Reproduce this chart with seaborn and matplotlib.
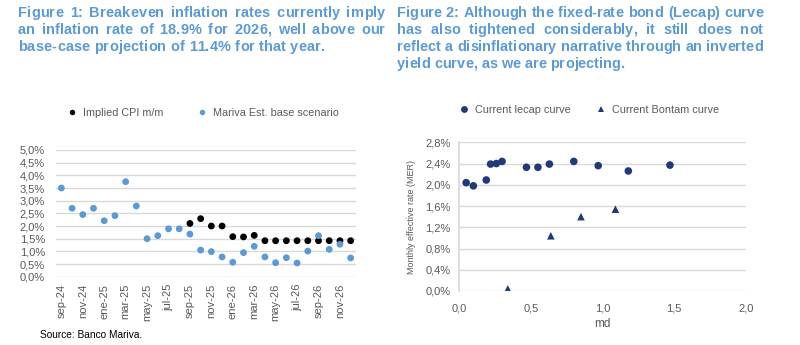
import matplotlib
matplotlib.use("Agg")
import matplotlib.pyplot as plt
import matplotlib.font_manager as fm
from matplotlib.ticker import FuncFormatter, MultipleLocator
import seaborn as sns
import pandas as pd

# ---------------- data ----------------
months = ["sep-24", "oct-24", "nov-24", "dic-24", "ene-25", "feb-25", "mar-25", "abr-25",
          "may-25", "jun-25", "jul-25", "ago-25", "sep-25", "oct-25", "nov-25", "dic-25",
          "ene-26", "feb-26", "mar-26", "abr-26", "may-26", "jun-26", "jul-26", "ago-26",
          "sep-26", "oct-26", "nov-26", "dic-26"]
mariva_est = [3.50, 2.70, 2.45, 2.70, 2.21, 2.41, 3.75, 2.79,
              1.50, 1.62, 1.89, 1.89, 1.68, 1.05, 0.99, 0.78,
              0.57, 0.95, 1.20, 0.78, 0.55, 0.75, 0.54, 1.01,
              1.62, 1.08, 1.28, 0.74]
implied_months = months[12:]
implied_cpi = [2.10, 2.29, 2.00, 2.00, 1.58, 1.57, 1.63, 1.42,
               1.42, 1.42, 1.42, 1.42, 1.42, 1.42, 1.42, 1.42]

lecap_md = [0.05, 0.10, 0.19, 0.22, 0.26, 0.30, 0.47, 0.55, 0.63, 0.80, 0.97, 1.18, 1.47]
lecap_mer = [2.04, 1.98, 2.09, 2.39, 2.40, 2.44, 2.33, 2.33, 2.39, 2.44, 2.36, 2.26, 2.37]
bontam_md = [0.34, 0.64, 0.85, 1.09]
bontam_mer = [0.04, 1.04, 1.40, 1.54]

title1 = ["Figure 1: Breakeven inflation rates currently imply",
          "an inflation rate of 18.9% for 2026, well above our",
          "base-case projection of 11.4% for that year."]
title2 = ["Figure 2: Although the fixed-rate bond (Lecap) curve",
          "has also tightened considerably, it still does not",
          "reflect a disinflationary narrative through an inverted",
          "yield curve, as we are projecting."]
source = "Source: Banco Mariva."

# ---------------- style ----------------
sns.set_theme(style="white")
names = {f.name for f in fm.fontManager.ttflist}
base_font = "Liberation Sans" if "Liberation Sans" in names else "DejaVu Sans"
plt.rcParams["font.family"] = [base_font, "DejaVu Sans"]

GRAY = "#595959"
GRID = "#D9D9D9"
LBLUE = "#5B9BD5"
NAVY = "#1F3A78"
TITLE = "#5B9BD5"

fig = plt.figure(figsize=(8.0, 3.45), dpi=100)

# ---------------- left chart ----------------
df1 = pd.concat([
    pd.DataFrame({"month": implied_months, "value": implied_cpi, "series": "Implied CPI m/m"}),
    pd.DataFrame({"month": months, "value": mariva_est, "series": "Mariva Est. base scenario"}),
])
df1["month"] = pd.Categorical(df1["month"], categories=months, ordered=True)
df1["pos"] = df1["month"].cat.codes

ax1 = fig.add_axes([0.07, 1 - 276.7 / 345, 0.375, (276.7 - 150) / 345])
sns.scatterplot(data=df1, x="pos", y="value", hue="series",
                palette={"Implied CPI m/m": "black", "Mariva Est. base scenario": LBLUE},
                s=24, linewidth=0, ax=ax1)
ax1.set_xlim(-0.5, len(months) - 0.5)
ax1.set_ylim(0, 5.0)
ax1.yaxis.set_major_locator(MultipleLocator(0.5))
ax1.yaxis.set_major_formatter(FuncFormatter(lambda v, p: f"{v:.1f}%".replace(".", ",")))
ax1.set_xticks(range(0, len(months), 2))
ax1.set_xticklabels(months[::2], rotation=90)
ax1.grid(axis="y", color=GRID, linewidth=1)
ax1.set_axisbelow(True)
for s in ax1.spines.values():
    s.set_visible(False)
ax1.tick_params(axis="both", length=0, labelsize=8, labelcolor=GRAY)
ax1.tick_params(axis="y", pad=8)
ax1.tick_params(axis="x", pad=5)
ax1.set_xlabel("")
ax1.set_ylabel("")
h, l = ax1.get_legend_handles_labels()
ax1.legend(h, l, loc="center", bbox_to_anchor=(200 / 800, 1 - 113 / 345),
           bbox_transform=fig.transFigure, ncol=2, frameon=False, fontsize=7.8,
           labelcolor=GRAY, handletextpad=0.0, columnspacing=2.6, markerscale=0.8)

# ---------------- right chart ----------------
df2 = pd.concat([
    pd.DataFrame({"md": lecap_md, "mer": lecap_mer, "curve": "Current lecap curve"}),
    pd.DataFrame({"md": bontam_md, "mer": bontam_mer, "curve": "Current Bontam curve"}),
])
ax2 = fig.add_axes([459 / 800, 1 - 291 / 345, (746 - 459) / 800, (291 - 142.3) / 345])
sns.scatterplot(data=df2, x="md", y="mer", hue="curve", style="curve",
                palette={"Current lecap curve": NAVY, "Current Bontam curve": NAVY},
                markers={"Current lecap curve": "o", "Current Bontam curve": "^"},
                s=30, linewidth=0, ax=ax2)
ax2.set_xlim(0, 2.0)
ax2.set_ylim(0, 2.8)
ax2.xaxis.set_major_locator(MultipleLocator(0.5))
ax2.yaxis.set_major_locator(MultipleLocator(0.4))
ax2.xaxis.set_major_formatter(FuncFormatter(lambda v, p: f"{v:.1f}".replace(".", ",")))
ax2.yaxis.set_major_formatter(FuncFormatter(lambda v, p: f"{v:.1f}%".replace(".", ",")))
ax2.grid(axis="y", color=GRID, linewidth=1)
ax2.set_axisbelow(True)
for k, s in ax2.spines.items():
    s.set_visible(k == "left")
ax2.spines["left"].set_color(GRID)
ax2.tick_params(axis="both", length=0, labelsize=8, labelcolor=GRAY)
ax2.tick_params(axis="y", pad=6)
ax2.tick_params(axis="x", pad=9)
ax2.set_xlabel("md", fontsize=8.5, color=GRAY, labelpad=3)
ax2.set_ylabel("Monthly effective rate (MER)", fontsize=6.5, color=GRAY, labelpad=7)
h, l = ax2.get_legend_handles_labels()
ax2.legend(h, l, loc="center", bbox_to_anchor=(586 / 800, 1 - 110 / 345),
           bbox_transform=fig.transFigure, ncol=2, frameon=False, fontsize=7.8,
           labelcolor=GRAY, handletextpad=0.0, columnspacing=1.8, markerscale=0.9)

# ---------------- titles (justified, with letter tracking) ----------------
fig.canvas.draw()
renderer = fig.canvas.get_renderer()
FAM = [base_font, "DejaVu Sans"]
_cache = {}


def cw(ch, size):
    key = (ch, size)
    if key not in _cache:
        if ch == " ":
            a = fig.text(0, 0, "a a", fontsize=size, fontweight="bold", family=FAM)
            b = fig.text(0, 0, "aa", fontsize=size, fontweight="bold", family=FAM)
            w = a.get_window_extent(renderer).width - b.get_window_extent(renderer).width
            a.remove(); b.remove()
        else:
            t = fig.text(0, 0, ch, fontsize=size, fontweight="bold", family=FAM)
            w = t.get_window_extent(renderer).width
            t.remove()
        _cache[key] = w
    return _cache[key]


def word_w(word, size, track):
    return sum(cw(c, size) for c in word) + track * (len(word) - 1)


def natural_w(line, size, track):
    return sum(cw(c, size) for c in line) + track * (len(line) - 1)


def draw_block(lines, x0, x1, y0, dy, size, track):
    for i, line in enumerate(lines):
        y = 1 - (y0 + i * dy) / 345
        words = line.split(" ")
        ws = [word_w(w, size, track) for w in words]
        if i < len(lines) - 1:
            gap = (x1 - x0 - sum(ws)) / (len(words) - 1)
        else:
            gap = cw(" ", size) + 2 * track
        x = x0
        for w, wwid in zip(words, ws):
            cx = x
            for c in w:
                fig.text(cx / 800, y, c, fontsize=size, fontweight="bold", color=TITLE,
                         family=FAM, va="center", ha="left")
                cx += cw(c, size) + track
            x += wwid + gap


# size chosen so the tight right-hand third line fills its width
size = round(10 * (763 - 397) / natural_w(title2[2], 10, 0), 2)
# left block uses wider tracking so its last line reaches its width
w3 = natural_w(title1[2], size, 0)
track1 = ((325 - 18) - w3) / (len(title1[2]) - 1)

draw_block(title1, 18, 385, 13, 17, size, track1)
draw_block(title2, 397, 763, 13, 17, size, 0)

fig.text(40 / 800, 1 - 335 / 345, source, fontsize=7.3, color="black", va="center", ha="left")

fig.savefig("out.png", dpi=100, facecolor="white")
